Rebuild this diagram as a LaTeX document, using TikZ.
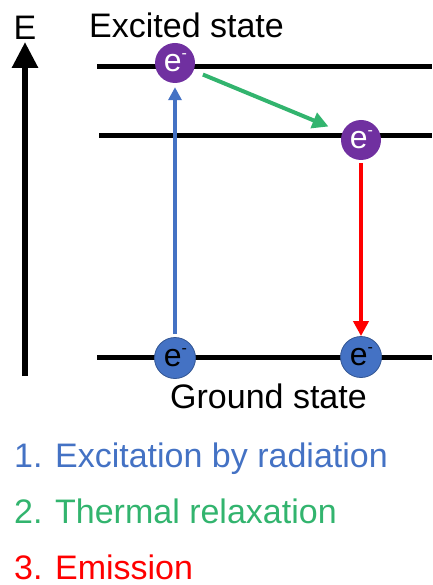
\documentclass[tikz,border=0pt]{standalone}
\usepackage{fontspec}
\setmainfont{Liberation Sans}
\usetikzlibrary{arrows.meta}
\definecolor{eblue}{HTML}{4472C4}
\definecolor{epurple}{HTML}{7030A0}
\definecolor{egreen}{RGB}{50,180,110}
\definecolor{ered}{HTML}{FF0000}
\newcommand{\elec}{\hspace*{1pt}e\raisebox{0.4em}{\fontsize{16}{16}\selectfont -}}
\tikzset{
  lbl/.style={inner sep=0pt, font=\fontsize{34}{40}\selectfont},
  level/.style={line width=5pt, black},
  exc/.style={circle, fill=epurple, minimum size=40pt, inner sep=0pt, text=white, font=\fontsize{32}{32}\selectfont},
  gnd/.style={circle, fill=eblue, draw=eblue!75!black, line width=0.8pt, minimum size=41pt, inner sep=0pt, text=black, font=\fontsize{32}{32}\selectfont},
}
\begin{document}
\begin{tikzpicture}[x=1pt,y=-1pt]
\useasboundingbox (0,0) rectangle (432,585);
% energy axis
\coordinate (ebot) at (25,376);
\coordinate (etop) at (25,42);
\draw[line width=6pt, -{Triangle[width=25pt,length=26pt]}] (ebot) -- (etop);
\node[lbl, anchor=base] (elab) at (25,40) {E};
% levels
\coordinate (l1a) at (97,67);  \coordinate (l1b) at (432,67);
\coordinate (l2a) at (99,136); \coordinate (l2b) at (432,136);
\coordinate (l3a) at (97,357); \coordinate (l3b) at (432,357);
\draw[level] (l1a) -- (l1b);
\draw[level] (l2a) -- (l2b);
\draw[level] (l3a) -- (l3b);
% electrons
\node[exc] (x1) at (175,63) {\elec};
\node[exc] (x2) at (361,140) {\elec};
\node[gnd] (g1) at (175,358) {\elec};
\node[gnd] (g2) at (361,357) {\elec};
% transitions
\draw[eblue, line width=4pt, -{Triangle[width=13pt,length=13pt]}, shorten <=3pt, shorten >=4pt] (g1.north) -- (x1.south);
\draw[egreen, line width=4pt, -{Triangle[width=16pt,length=16pt]}, shorten <=10pt, shorten >=15pt] (x1) -- (x2);
\draw[ered, line width=4pt, -{Triangle[width=15pt,length=15pt]}, shorten <=3pt, shorten >=0pt] (x2.south) -- (g2.north);
% labels
\node[lbl, anchor=base west] (exlab) at (89,38) {Excited state};
\node[lbl, anchor=base west] (gslab) at (170,408) {Ground state};
\node[lbl, anchor=base west, text=eblue] (k1) at (14,467) {1. Excitation by radiation};
\node[lbl, anchor=base west, text=egreen] (k2) at (14,523) {2. Thermal relaxation};
\node[lbl, anchor=base west, text=ered] (k3) at (14,579) {3. Emission};
\end{tikzpicture}
\end{document}
